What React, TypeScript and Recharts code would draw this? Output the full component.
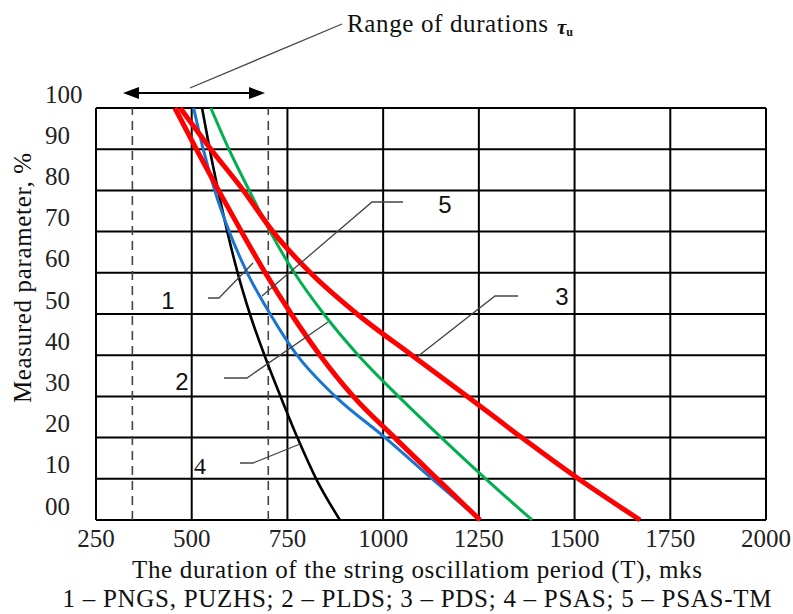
import { CartesianGrid, Line, LineChart, ReferenceLine, XAxis, YAxis } from "recharts";

const levels = [100, 90, 80, 70, 60, 50, 40, 30, 20, 10, 0];
const durBlack = [527, 547, 569, 593, 620, 652, 690, 732, 776, 825, 887];
const durBlue = [505, 530, 560, 598, 645, 705, 775, 875, 1005, 1128, 1253];
const durRedLow = [456, 512, 570, 630, 692, 760, 835, 922, 1030, 1141, 1253];
const durGreen = [550, 597, 650, 705, 768, 845, 935, 1040, 1152, 1268, 1389];
const durRedHigh = [470, 550, 635, 712, 810, 932, 1075, 1220, 1362, 1510, 1671];

const xTicks = [250, 500, 750, 1000, 1250, 1500, 1750, 2000];
const yTicks = [0, 10, 20, 30, 40, 50, 60, 70, 80, 90, 100];
const rangeBounds = [345, 700];

const toPoints = (durs: number[]) => durs.map((x, i) => ({ x, y: levels[i] }));

const serif = '"Liberation Serif", "Times New Roman", serif';
const sans = '"Liberation Sans", Arial, sans-serif';

const XTick = (props: any) => (
  <text x={props.x} y={props.y + 18} textAnchor="middle" dominantBaseline="central"
    fontFamily={serif} fontSize={25} fill="#222">
    {props.payload.value}
  </text>
);

const YTick = (props: any) => (
  <text x={45} y={props.y - 14} textAnchor="start" dominantBaseline="central"
    fontFamily={serif} fontSize={25} fill="#222">
    {props.payload.value === 0 ? "00" : props.payload.value}
  </text>
);

const leader = { stroke: "#444", strokeWidth: 1.3, fill: "none" };

const Overlay = () => (
  <svg width={793} height={614} style={{ position: "absolute", left: 0, top: 0, pointerEvents: "none" }}>
    <text x={347} y={32} fontFamily={serif} fontSize={25} textLength={201} fill="#111">Range of durations</text>
    <text x={557} y={34} fontFamily={serif} fontSize={21} fontWeight="bold" fontStyle="italic" fill="#111">
      τ<tspan fontSize={12} dy={2} fontStyle="normal">u</tspan>
    </text>
    <line x1={190} y1={88} x2={342} y2={24} {...leader} />
    <line x1={132} y1={93} x2={256} y2={93} stroke="#000" strokeWidth={2} />
    <polygon points="123,93 139,87 139,99" fill="#000" />
    <polygon points="265,93 249,87 249,99" fill="#000" />

    <polyline points="208,298 219,298 253,263" {...leader} />
    <text x={168} y={300} textAnchor="middle" dominantBaseline="central" fontFamily={sans} fontSize={24} fill="#111">1</text>

    <polyline points="224,378 247,378 328,322" {...leader} />
    <text x={182} y={381} textAnchor="middle" dominantBaseline="central" fontFamily={sans} fontSize={24} fill="#111">2</text>

    <polyline points="518,296 495,296 417,357" {...leader} />
    <text x={562} y={296} textAnchor="middle" dominantBaseline="central" fontFamily={sans} fontSize={24} fill="#111">3</text>

    <polyline points="240,463 253,463 300,444" {...leader} />
    <text x={200} y={466} textAnchor="middle" dominantBaseline="central" fontFamily={serif} fontSize={24} fill="#111">4</text>

    <polyline points="403,202 372,202 262,296" {...leader} />
    <text x={445} y={204} textAnchor="middle" dominantBaseline="central" fontFamily={sans} fontSize={24} fill="#111">5</text>

    <text x={22} y={278} transform="rotate(-90 22 278)" textAnchor="middle" dominantBaseline="central"
      fontFamily={serif} fontSize={25} textLength={250} fill="#111">
      Measured parameter, %
    </text>
    <text x={417} y={578} textAnchor="middle" fontFamily={serif} fontSize={25} textLength={570} fill="#111">
      The duration of the string oscillatiom period (T), mks
    </text>
    <text x={417} y={607} textAnchor="middle" fontFamily={serif} fontSize={25} textLength={709} fill="#111">
      1 – PNGS, PUZHS; 2 – PLDS; 3 – PDS; 4 – PSAS; 5 – PSAS-TM
    </text>
  </svg>
);

export default function App() {
  return (
    <div style={{ position: "absolute", left: 0, top: 0, width: 793, height: 614, background: "#fff" }}>
      <LineChart width={793} height={614} margin={{ top: 108, right: 27, bottom: 64, left: 36 }}>
        <CartesianGrid stroke="#000" strokeWidth={2} />
        <XAxis type="number" dataKey="x" domain={[250, 2000]} ticks={xTicks} interval={0}
          axisLine={false} tickLine={false} tickSize={0} tickMargin={0} height={30} tick={<XTick />} />
        <YAxis type="number" dataKey="y" domain={[0, 100]} ticks={yTicks} interval={0}
          axisLine={false} tickLine={false} tickSize={0} tickMargin={0} width={60} tick={<YTick />} />
        {rangeBounds.map((b) => (
          <ReferenceLine key={b} x={b} stroke="#444" strokeWidth={1.6} strokeDasharray="9 6" />
        ))}
        <Line data={toPoints(durBlack)} dataKey="y" type="monotone" stroke="#000" strokeWidth={2.6} dot={false} isAnimationActive={false} />
        <Line data={toPoints(durBlue)} dataKey="y" type="monotone" stroke="#1a75d2" strokeWidth={3} dot={false} isAnimationActive={false} />
        <Line data={toPoints(durGreen)} dataKey="y" type="monotone" stroke="#00b050" strokeWidth={3} dot={false} isAnimationActive={false} />
        <Line data={toPoints(durRedLow)} dataKey="y" type="monotone" stroke="#ff0000" strokeWidth={5} dot={false} isAnimationActive={false} />
        <Line data={toPoints(durRedHigh)} dataKey="y" type="monotone" stroke="#ff0000" strokeWidth={5} dot={false} isAnimationActive={false} />
      </LineChart>
      <Overlay />
    </div>
  );
}
